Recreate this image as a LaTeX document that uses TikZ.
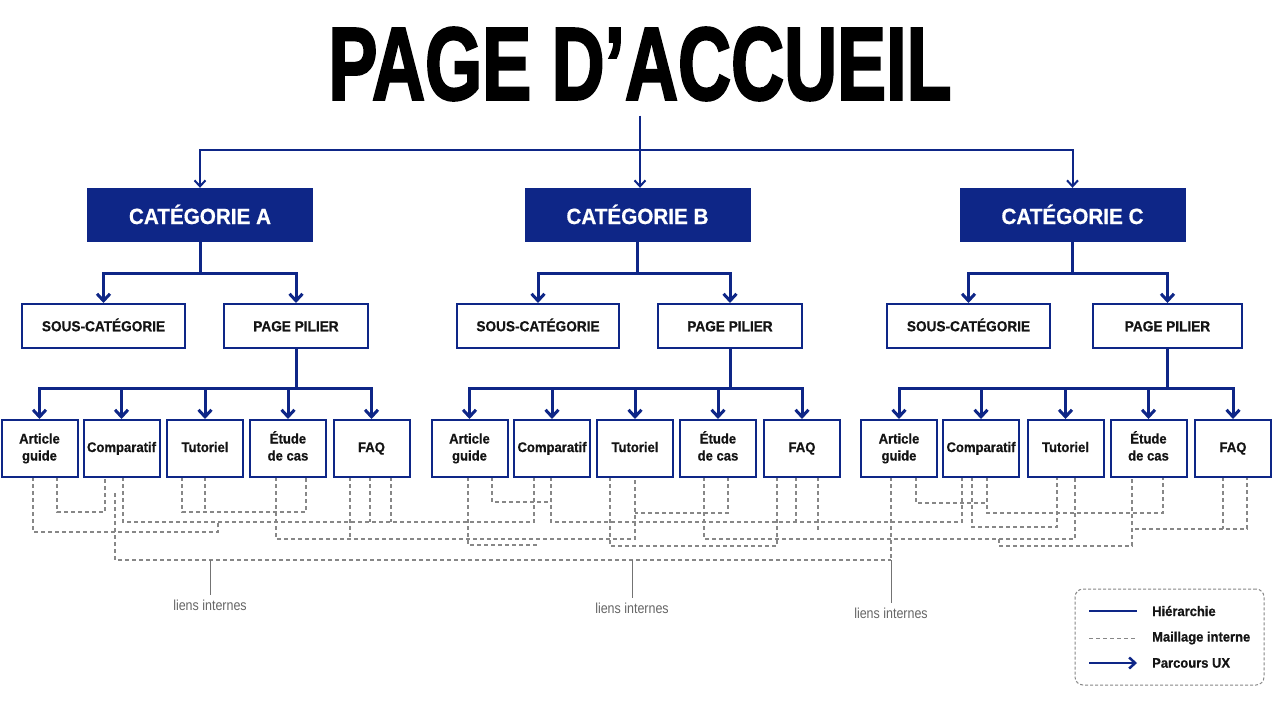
\documentclass[tikz,border=0pt]{standalone}
\usepackage{fontspec}
\usepackage{graphicx}
\setmainfont{Liberation Sans}
\newfontfamily\lblfont[FakeStretch=0.94, BoldFeatures={FakeBold=0.6}]{Liberation Sans}
\newfontfamily\lienfont[FakeStretch=0.86]{Liberation Sans}
\newfontfamily\titlefont[FakeBold=2.5]{Liberation Sans Bold}
\usetikzlibrary{arrows.meta}
\definecolor{navy}{RGB}{14,38,135}
\definecolor{meshgray}{RGB}{135,135,135}
\definecolor{txt}{RGB}{20,20,20}
\tikzset{
  cat/.style={fill=navy, draw=navy, minimum width=225pt, minimum height=53pt, inner sep=0pt, text height=19pt, text depth=0pt, text=white, font=\lblfont\bfseries\fontsize{22}{24}\selectfont},
  sub/.style={draw=navy, line width=2pt, fill=white, minimum height=44pt, inner sep=0pt, text height=10.5pt, text depth=0pt, text=txt, font=\lblfont\bfseries\fontsize{14.5}{17}\selectfont},
  leaf/.style={draw=navy, line width=2pt, fill=white, minimum width=76pt, minimum height=57pt, inner sep=0pt, align=center, text height=10pt, text depth=3pt, text=txt, font=\lblfont\bfseries\fontsize{13.9}{17}\selectfont},
  twoline/.style={text height=27pt, text depth=3pt},
  hier/.style={draw=navy, line width=3pt},
  hierarrow/.style={hier, -{Straight Barb[length=7pt,width=13pt]}},
  topline/.style={draw=navy, line width=2pt},
  toparrow/.style={topline, -{Straight Barb[length=6pt,width=11pt]}},
  mesh/.style={draw=meshgray, line width=1.1pt, dash pattern=on 4pt off 3pt},
  stub/.style={draw=black!55, line width=1pt},
  lien/.style={text=black!60, inner sep=0pt, font=\lienfont\fontsize{14.5}{16}\selectfont},
  legtext/.style={anchor=west, inner sep=0pt, text=txt, font=\lblfont\bfseries\fontsize{13.8}{16}\selectfont},
}
\begin{document}
\begin{tikzpicture}[x=1pt,y=-1pt]
\useasboundingbox (0,0) rectangle (1280,702);
\fill[white] (0,0) rectangle (1280,702);

% title
\node[inner sep=0pt] (title) at (640,64) {\resizebox{623pt}{72pt}{\titlefont PAGE D’ACCUEIL}};

% categories
\node[cat] (catA) at (200,214.5) {CATÉGORIE A};
\node[cat] (catB) at (637.5,214.5) {CATÉGORIE B};
\node[cat] (catC) at (1072.5,214.5) {CATÉGORIE C};

% sub level
\node[sub, minimum width=163pt] (scA) at (103.5,326) {SOUS-CATÉGORIE};
\node[sub, minimum width=144pt] (ppA) at (296,326) {PAGE PILIER};
\node[sub, minimum width=162pt] (scB) at (538,326) {SOUS-CATÉGORIE};
\node[sub, minimum width=144pt] (ppB) at (730,326) {PAGE PILIER};
\node[sub, minimum width=163pt] (scC) at (968.5,326) {SOUS-CATÉGORIE};
\node[sub, minimum width=149pt] (ppC) at (1167.5,326) {PAGE PILIER};

% dashed internal links (drawn first)
\draw[mesh] (57,477) -- (57,512) -| (105,477);
\draw[mesh] (33,477) -- (33,532) -| (218,522);
\draw[mesh] (123,477) -- (123,522) -| (534,477);
\draw[mesh] (551,477) -- (551,522) -| (962,477);
\draw[mesh] (492,477) |- (551,502);
\draw[mesh] (370,477) -- (370,522);
\draw[mesh] (391,477) -- (391,522);
\draw[mesh] (182,477) -- (182,512) -| (306,477);
\draw[mesh] (205,477) -- (205,512);
\draw[mesh] (276,477) -- (276,539) -| (635,477);
\draw[mesh] (350,477) -- (350,539);
\draw[mesh] (468,477) |- (537,545);
\draw[mesh] (728,477) |- (635,513);
\draw[mesh] (610,477) -- (610,546) -| (777,477);
\draw[mesh] (704,477) -- (704,539) -| (1075,477);
\draw[mesh] (796,477) -- (796,522);
\draw[mesh] (818,477) -- (818,530);
\draw[mesh] (916,477) |- (987,503);
\draw[mesh] (987,477) -- (987,513) -| (1163,477);
\draw[mesh] (972,477) -- (972,527) -| (1057,477);
\draw[mesh] (999,539) |- (1132,546) -- (1132,477);
\draw[mesh] (1135,529) -| (1247,477);
\draw[mesh] (1223,477) -- (1223,529);
\draw[mesh] (115,493) |- (891,560);
\draw[mesh] (891,477) -- (891,560);

% leaves
\foreach \n/\x/\t/\s in {A1/39.5/{Article\\guide}/twoline, A2/121.5/Comparatif/{}, A3/205/Tutoriel/{}, A4/288/{Étude\\de cas}/twoline, A5/371.5/FAQ/{},
                       B1/469.5/{Article\\guide}/twoline, B2/552/Comparatif/{}, B3/635/Tutoriel/{}, B4/718/{Étude\\de cas}/twoline, B5/802/FAQ/{},
                       C1/899/{Article\\guide}/twoline, C2/981/Comparatif/{}, C3/1065.5/Tutoriel/{}, C4/1148.5/{Étude\\de cas}/twoline, C5/1233/FAQ/{}}
  \node[leaf, \s] (\n) at (\x,448.5) {\t};

% hierarchy: title to categories
\coordinate (bar) at (640,150);
\draw[topline] ([yshift=-15pt]title.south) -- (bar);
\draw[toparrow] (bar) -- (bar |- catB.north);
\draw[toparrow] (bar) -| (catA.north);
\draw[toparrow] (bar) -| (catC.north);

% categories to sub-level
\foreach \c in {A,B,C}{
  \draw[hier] (cat\c.south) -- ++(0,32) coordinate (j\c);
  \draw[hierarrow] (j\c) -| (sc\c.north);
  \draw[hierarrow] (j\c) -| (pp\c.north);
  \draw[hier] (pp\c.south) -- ++(0,39) coordinate (k\c);
  \foreach \i in {1,...,5}{
    \draw[hierarrow] (k\c) -| (\c\i.north);
  }
}

% liens internes
\node[lien] (l1) at (210,605) {liens internes};
\node[lien] (l2) at (632,608) {liens internes};
\node[lien] (l3) at (891,613) {liens internes};
\draw[stub] (l1.north |- 0,560) -- ([yshift=4pt]l1.north);
\draw[stub] (l2.north |- 0,560) -- ([yshift=4pt]l2.north);
\draw[stub] (l3.north |- 0,560) -- ([yshift=4pt]l3.north);

% legend
\node[draw=meshgray, line width=1pt, dash pattern=on 3pt off 2pt, rounded corners=8pt, minimum width=189pt, minimum height=96pt, inner sep=0pt] (legend) at (1169.5,637) {};
\node[legtext] (lh) at (1152,611) {Hiérarchie};
\node[legtext] (lm) at (1152,638) {Maillage interne};
\node[legtext] (lp) at (1152,663) {Parcours UX};
\draw[hier, line width=2.5pt] ([xshift=-63pt]lh.west) -- ([xshift=-15pt]lh.west);
\draw[mesh, line width=1pt] ([xshift=-63pt]lm.west) -- ([xshift=-15pt]lm.west);
\draw[hier, line width=2.5pt, -{Straight Barb[length=6pt,width=11pt]}] ([xshift=-63pt]lp.west) -- ([xshift=-15pt]lp.west);
\end{tikzpicture}
\end{document}
